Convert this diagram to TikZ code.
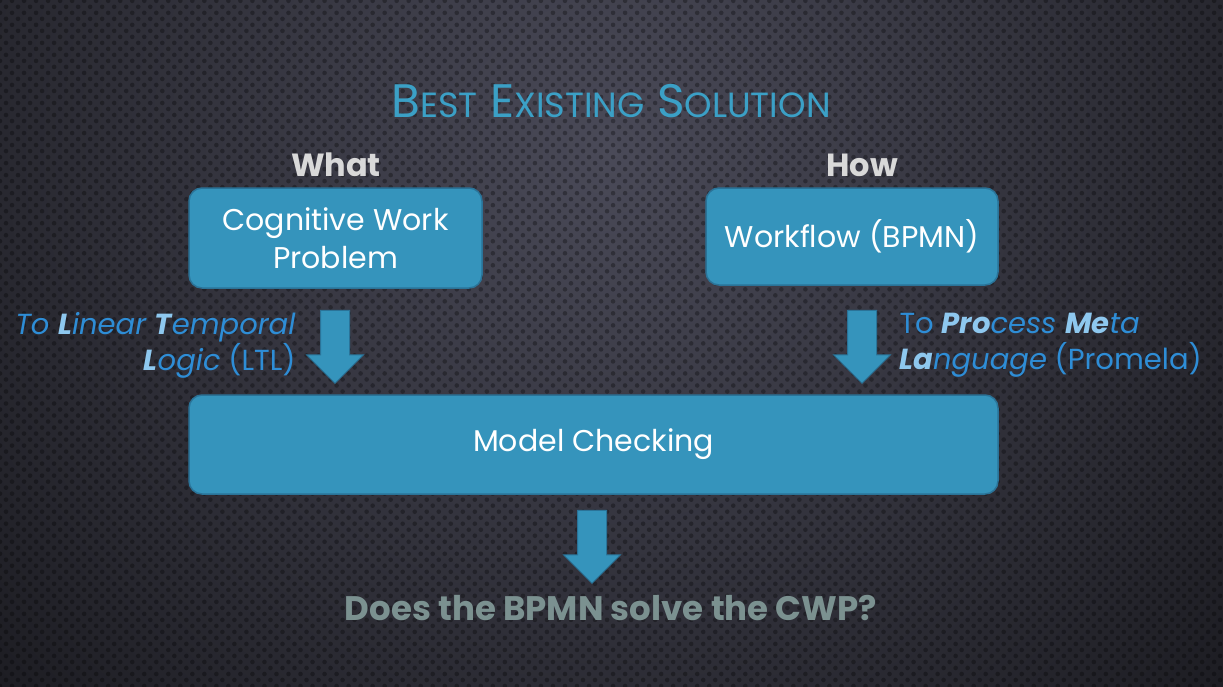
\documentclass[tikz,border=0pt]{standalone}
\usepackage{fontspec}
\setmainfont{Poppins}
\usetikzlibrary{shapes.arrows,patterns.meta,positioning}

\definecolor{bgin}{HTML}{4A4A58}
\definecolor{bgout}{HTML}{18181D}
\definecolor{boxfill}{HTML}{3594BC}
\definecolor{boxedge}{HTML}{2A7398}
\definecolor{titleblue}{HTML}{3BA0C6}
\definecolor{noteblue}{HTML}{2E8DD6}
\definecolor{notelight}{HTML}{8EC8EF}
\definecolor{headgray}{HTML}{D9D9D9}
\definecolor{askgray}{HTML}{7B9190}

\newcommand{\smc}[2]{{\fontsize{47}{50}\selectfont #1}{\fontsize{35}{40}\selectfont #2}}
\newcommand{\hl}[1]{{\bfseries\itshape\color{notelight}#1}}

\tikzset{
  box/.style={draw=boxedge, fill=boxfill, rounded corners=13pt, line width=1.5pt,
    text=white, align=center, font=\fontsize{30}{38}\selectfont},
  blockarrow/.style={single arrow, shape border rotate=270, draw=boxedge, fill=boxfill,
    line width=1pt, minimum height=73pt, inner sep=14pt,
    single arrow head extend=14pt},
  heading/.style={text=headgray, font=\bfseries\fontsize{32}{36}\selectfont, anchor=base},
  note/.style={text=noteblue, font=\fontsize{29}{36}\selectfont}
}

\begin{document}
\begin{tikzpicture}[x=1pt,y=-1pt]
	\useasboundingbox (0,0) rectangle (1223,686);
	\clip (0,0) rectangle (1223,686);
	% background
	\shade[inner color=bgin, outer color=bgout] (611,150) circle (900);
	\fill[pattern={Dots[distance=8.5pt,radius=2.3pt,angle=45]}, pattern color=black, fill opacity=0.3] (0,0) rectangle (1223,686);

	\node[anchor=base, text=titleblue, font=\fontsize{47}{50}\selectfont] (title) at (611,117) {\smc{B}{EST} \smc{E}{XISTING} \smc{S}{OLUTION}};

	\node[heading] (what) at (336,176) {What};
	\node[heading] (how) at (862,176) {How};

	\node[box, minimum width=293pt, minimum height=100pt] (cwp) at (335.5,238) {Cognitive Work\\Problem};
	\node[box, minimum width=292pt, minimum height=97pt] (wf) at (852,236.5) {Workflow (BPMN)};
	\node[box, minimum width=809pt, minimum height=99pt] (mc) at (593.5,444.5) {Model Checking};

	\node[blockarrow] (ltlarrow) at (335,339.5) {};
	\node[blockarrow] (pmlarrow) at (862,339.5) {};
	\node[blockarrow] (mcarrow) at (592,539.5) {};

	\node[note, anchor=east, align=right] (ltl) at (299,345) {{\itshape To \hl{L}inear \hl{T}emporal}\\{\itshape\hl{L}ogic} (LTL)};
	\node[note, anchor=west, align=left] (pml) at (896,345) {To {\itshape\hl{Pro}cess \hl{Me}ta}\\{\itshape\hl{La}nguage} (Promela)};

	\node[anchor=base, text=askgray, font=\bfseries\fontsize{34}{38}\selectfont] (ask) at (611,620) {Does the BPMN solve the CWP?};
\end{tikzpicture}
\end{document}
